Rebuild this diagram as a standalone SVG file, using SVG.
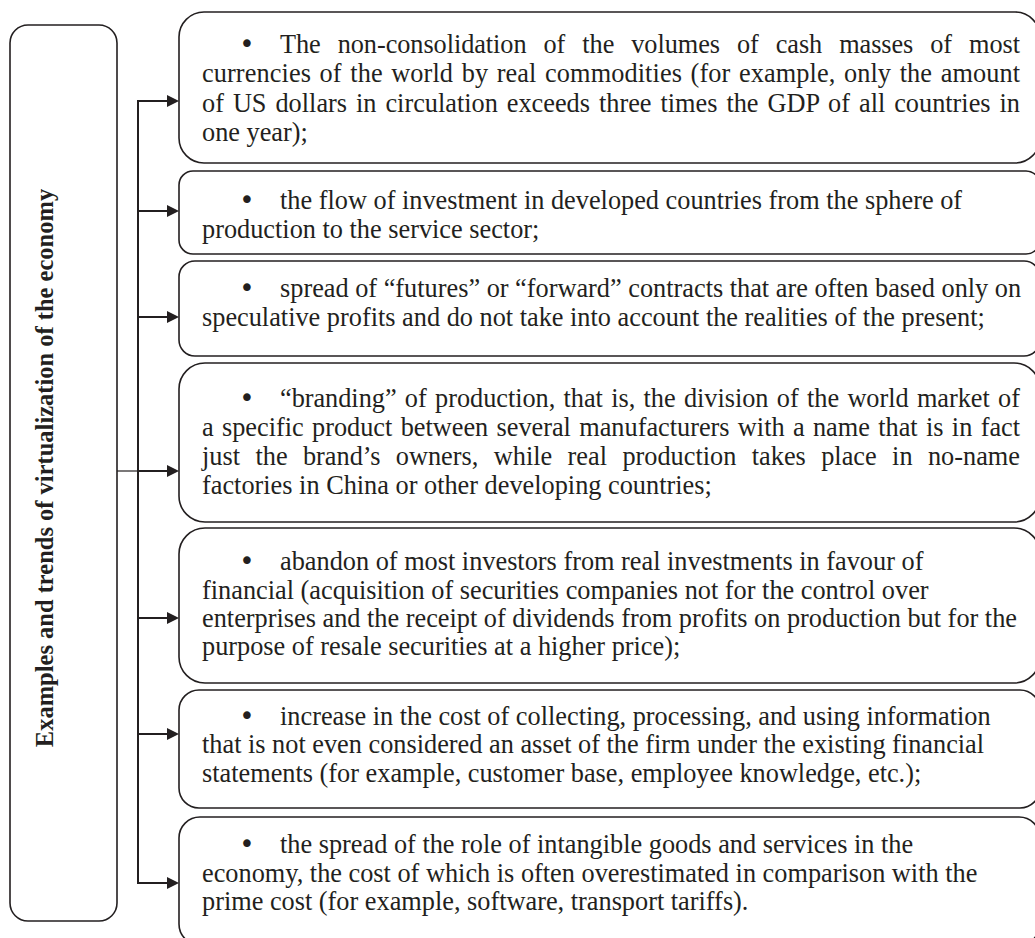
<svg xmlns="http://www.w3.org/2000/svg" width="1035" height="938" viewBox="0 0 1035 938">
<style>
.bg{fill:#ffffff}
.box{fill:#ffffff;stroke:#231f20;stroke-width:1.6}
.t{font-family:"Liberation Serif","Times New Roman",serif;font-size:26.3px;fill:#231f20}
.bu{font-family:"DejaVu Sans","Liberation Sans",sans-serif;font-size:26px;fill:#231f20;text-anchor:middle}
.title{font-family:"Liberation Serif","Times New Roman",serif;font-size:24.5px;font-weight:bold;fill:#231f20;text-anchor:middle}
.ln{fill:none;stroke:#231f20;stroke-width:2}
.thin{fill:none;stroke:#231f20;stroke-width:1.2}
</style>
<defs>
<marker id="ah" viewBox="0 0 12 12" refX="3" refY="6" markerWidth="12" markerHeight="12" markerUnits="userSpaceOnUse" orient="auto">
<path d="M0,0 L12,6 L0,12 z" fill="#231f20"/>
</marker>
</defs>
<rect class="bg" x="0" y="0" width="1035" height="938"/>

<g id="connectors">
<path class="thin" d="M117,471 H138"/>
<path class="ln" d="M138,101 V883" stroke-linecap="square"/>
<path class="ln" d="M138,101 H170" marker-end="url(#ah)"/>
<path class="ln" d="M138,211 H170" marker-end="url(#ah)"/>
<path class="ln" d="M138,317 H170" marker-end="url(#ah)"/>
<path class="ln" d="M138,471 H170" marker-end="url(#ah)"/>
<path class="ln" d="M138,618 H170" marker-end="url(#ah)"/>
<path class="ln" d="M138,734 H170" marker-end="url(#ah)"/>
<path class="ln" d="M138,883 H170" marker-end="url(#ah)"/>
</g>

<g id="title">
<rect class="box" x="10" y="25" width="107" height="896" rx="18" ry="18"/>
<text class="title" transform="translate(53,468) rotate(-90)">Examples and trends of virtualization of the economy</text>
</g>

<g id="item1">
<rect class="box" x="179" y="12" width="861" height="151" rx="25" ry="25"/>
<text class="bu" x="247" y="53">•</text>
<text class="t" x="280" y="53" word-spacing="10.5" textLength="740" lengthAdjust="spacing">The non-consolidation of the volumes of cash masses of most</text>
<text class="t" x="202" y="82" word-spacing="1.9" textLength="818" lengthAdjust="spacing">currencies of the world by real commodities (for example, only the amount</text>
<text class="t" x="202" y="112" word-spacing="2.4" textLength="818" lengthAdjust="spacing">of US dollars in circulation exceeds three times the GDP of all countries in</text>
<text class="t" x="202" y="141">one year);</text>
</g>

<g id="item2">
<rect class="box" x="179" y="171" width="861" height="83" rx="14" ry="14"/>
<text class="bu" x="247" y="209">•</text>
<text class="t" x="280" y="209">the flow of investment in developed countries from the sphere of</text>
<text class="t" x="202" y="238">production to the service sector;</text>
</g>

<g id="item3">
<rect class="box" x="179" y="261" width="861" height="95" rx="16" ry="16"/>
<text class="bu" x="247" y="297">•</text>
<text class="t" x="280" y="297">spread of “futures” or “forward” contracts that are often based only on</text>
<text class="t" x="202" y="326">speculative profits and do not take into account the realities of the present;</text>
</g>

<g id="item4">
<rect class="box" x="179" y="363" width="861" height="159" rx="26" ry="26"/>
<text class="bu" x="247" y="407">•</text>
<text class="t" x="280" y="407" word-spacing="1.8" textLength="740" lengthAdjust="spacing">“branding” of production, that is, the division of the world market of</text>
<text class="t" x="202" y="436" word-spacing="1.8" textLength="818" lengthAdjust="spacing">a specific product between several manufacturers with a name that is in fact</text>
<text class="t" x="202" y="465" word-spacing="8.8" textLength="818" lengthAdjust="spacing">just the brand’s owners, while real production takes place in no-name</text>
<text class="t" x="202" y="494">factories in China or other developing countries;</text>
</g>

<g id="item5">
<rect class="box" x="179" y="528" width="861" height="155" rx="26" ry="26"/>
<text class="bu" x="247" y="570">•</text>
<text class="t" x="280" y="570">abandon of most investors from real investments in favour of</text>
<text class="t" x="202" y="599">financial (acquisition of securities companies not for the control over</text>
<text class="t" x="202" y="627">enterprises and the receipt of dividends from profits on production but for the</text>
<text class="t" x="202" y="655">purpose of resale securities at a higher price);</text>
</g>

<g id="item6">
<rect class="box" x="179" y="690" width="861" height="118" rx="20" ry="20"/>
<text class="bu" x="247" y="725">•</text>
<text class="t" x="280" y="725">increase in the cost of collecting, processing, and using information</text>
<text class="t" x="202" y="753">that is not even considered an asset of the firm under the existing financial</text>
<text class="t" x="202" y="782">statements (for example, customer base, employee knowledge, etc.);</text>
</g>

<g id="item7">
<rect class="box" x="179" y="817" width="861" height="128" rx="21" ry="21"/>
<text class="bu" x="247" y="853">•</text>
<text class="t" x="280" y="853">the spread of the role of intangible goods and services in the</text>
<text class="t" x="202" y="882">economy, the cost of which is often overestimated in comparison with the</text>
<text class="t" x="202" y="910">prime cost (for example, software, transport tariffs).</text>
</g>
</svg>
